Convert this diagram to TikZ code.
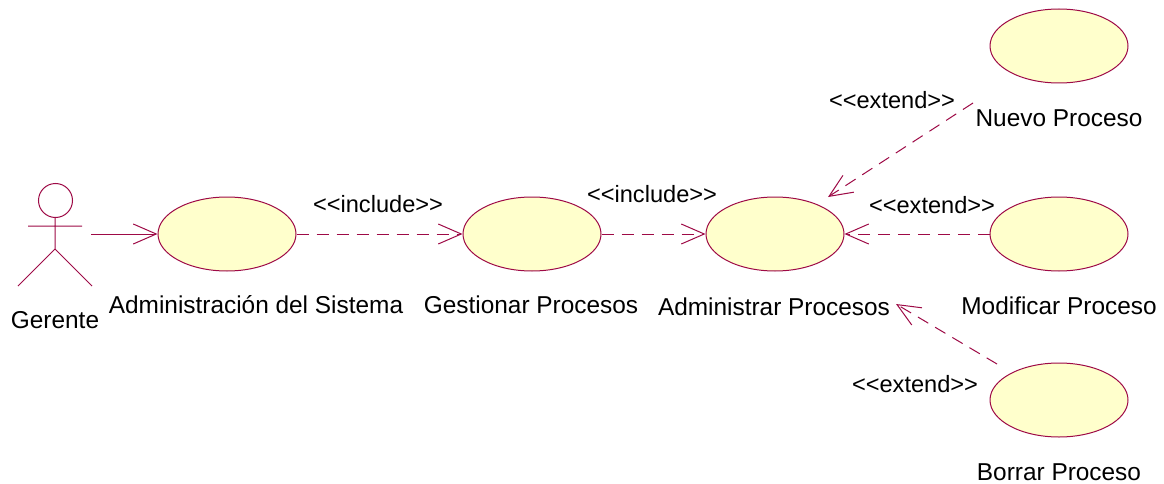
\documentclass[tikz,border=0pt]{standalone}
\usepackage{fontspec}
\setmainfont{Liberation Sans}
\usetikzlibrary{shapes.geometric,arrows.meta}
\definecolor{uml}{RGB}{158,10,70}
\definecolor{ufill}{RGB}{255,255,204}
\tikzset{x=1pt,y=-1pt,
 uc/.style={ellipse,draw=uml,fill=ufill,line width=1pt,minimum width=138pt,minimum height=74pt,inner sep=0pt},
 lbl/.style={font=\fontsize{24.4pt}{28pt}\selectfont,inner sep=0pt,text=black},
 stereo/.style={font=\fontsize{23.6pt}{28pt}\selectfont,inner sep=0pt,text=black},
 arr/.style={draw=uml,line width=1pt,-{Straight Barb[length=23pt,width=20pt,line width=1pt]}},
 dep/.style={arr,dash pattern=on 12pt off 8pt}}
\newcommand{\ext}{<{}<extend>{}>}
\newcommand{\inc}{<{}<include>{}>}
\begin{document}
\begin{tikzpicture}
\useasboundingbox (0,0) rectangle (1164,484);
\fill[white] (0,0) rectangle (1164,484);
\node[uc] (a) at (227,234) {};
\node[uc] (b) at (532,234) {};
\node[uc] (c) at (775,234) {};
\node[uc] (d) at (1059,46) {};
\node[uc] (e) at (1059,234) {};
\node[uc] (f) at (1059,400) {};
\node[circle,draw=uml,line width=1pt,minimum size=34pt,inner sep=0pt] (h) at (55.5,200.5) {};
\coordinate (s1) at (55,218);
\coordinate (s2) at (55,249);
\coordinate (al) at (28,226);
\coordinate (ar) at (82,226);
\coordinate (ll) at (18,286);
\coordinate (lr) at (92,286);
\draw[uml,line width=1pt] (s1)--(s2) (al)--(ar) (ll)--(s2)--(lr);
\node[lbl] (tg) at (55,320) {Gerente};
\node[lbl] (ta) at (256,305) {Administración del Sistema};
\node[lbl] (tb) at (531,305) {Gestionar Procesos};
\node[lbl] (tc) at (774,307) {Administrar Procesos};
\node[lbl] (td) at (1059,118) {Nuevo Proceso};
\node[lbl] (te) at (1059,306) {Modificar Proceso};
\node[lbl] (tf) at (1059,472) {Borrar Proceso};
\node[stereo] at (378,204) {\inc};
\node[stereo] at (652,194) {\inc};
\node[stereo] at (892,100) {\ext};
\node[stereo] at (932,205) {\ext};
\node[stereo] at (915,384) {\ext};
\coordinate (p0) at (91,234);
\draw[arr] (p0) -- (a.west);
\draw[dep] (a.east) -- (b.west);
\draw[dep] (b.east) -- (c.west);
\coordinate (q1) at (973,103);
\coordinate (q2) at (828,197);
\draw[dep] (q1) -- (q2);
\draw[dep] (e.west) -- (c.east);
\coordinate (r1) at (997,364);
\coordinate (r2) at (896,304);
\draw[dep] (r1) -- (r2);
\end{tikzpicture}
\end{document}
